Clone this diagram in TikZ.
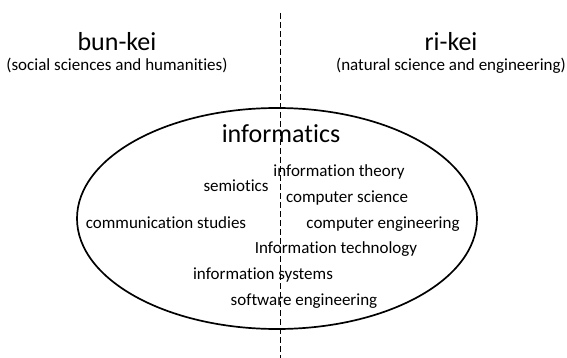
\documentclass[tikz,border=0pt]{standalone}
\usepackage{fontspec}
\setmainfont[Ligatures=NoCommon]{Carlito}
\usetikzlibrary{shapes.geometric}
\begin{document}
\begin{tikzpicture}[x=1pt,y=-1pt,
  big/.style={font=\fontsize{26}{29}\selectfont, anchor=base, inner sep=0pt},
  sub/.style={font=\fontsize{17}{20}\selectfont, anchor=base, inner sep=0pt},
  field/.style={font=\fontsize{17}{20}\selectfont, anchor=base, inner sep=0pt}]
\useasboundingbox (0,0) rectangle (567,358);
\coordinate (top) at (280.5,13);
\coordinate (bot) at (280.5,358);
\draw[dash pattern=on 6pt off 3pt, line width=0.9pt] (top) -- (bot);
\node[draw, ellipse, line width=1.7pt, minimum width=400pt, minimum height=221pt, inner sep=0pt] (ell) at (277,218.5) {};
\node[big] (bun) at (117,51) {bun-kei};
\node[sub] (bunsub) at (117,70.5) {(social sciences and humanities)};
\node[big] (ri) at (451,51) {ri-kei};
\node[sub] (risub) at (451,70.5) {(natural science and engineering)};
\node[big] (inf) at (281,143) {informatics};
\node[field] (it) at (339,177) {information theory};
\node[field] (sem) at (236,192) {semiotics};
\node[field] (cs) at (347,202) {computer science};
\node[field] (comm) at (166,228) {communication studies};
\node[field] (ce) at (383,228) {computer engineering};
\node[field] (itech) at (336,253) {Information technology};
\node[field] (is) at (263,279) {information systems};
\node[field] (se) at (304,305) {software engineering};
\end{tikzpicture}
\end{document}
